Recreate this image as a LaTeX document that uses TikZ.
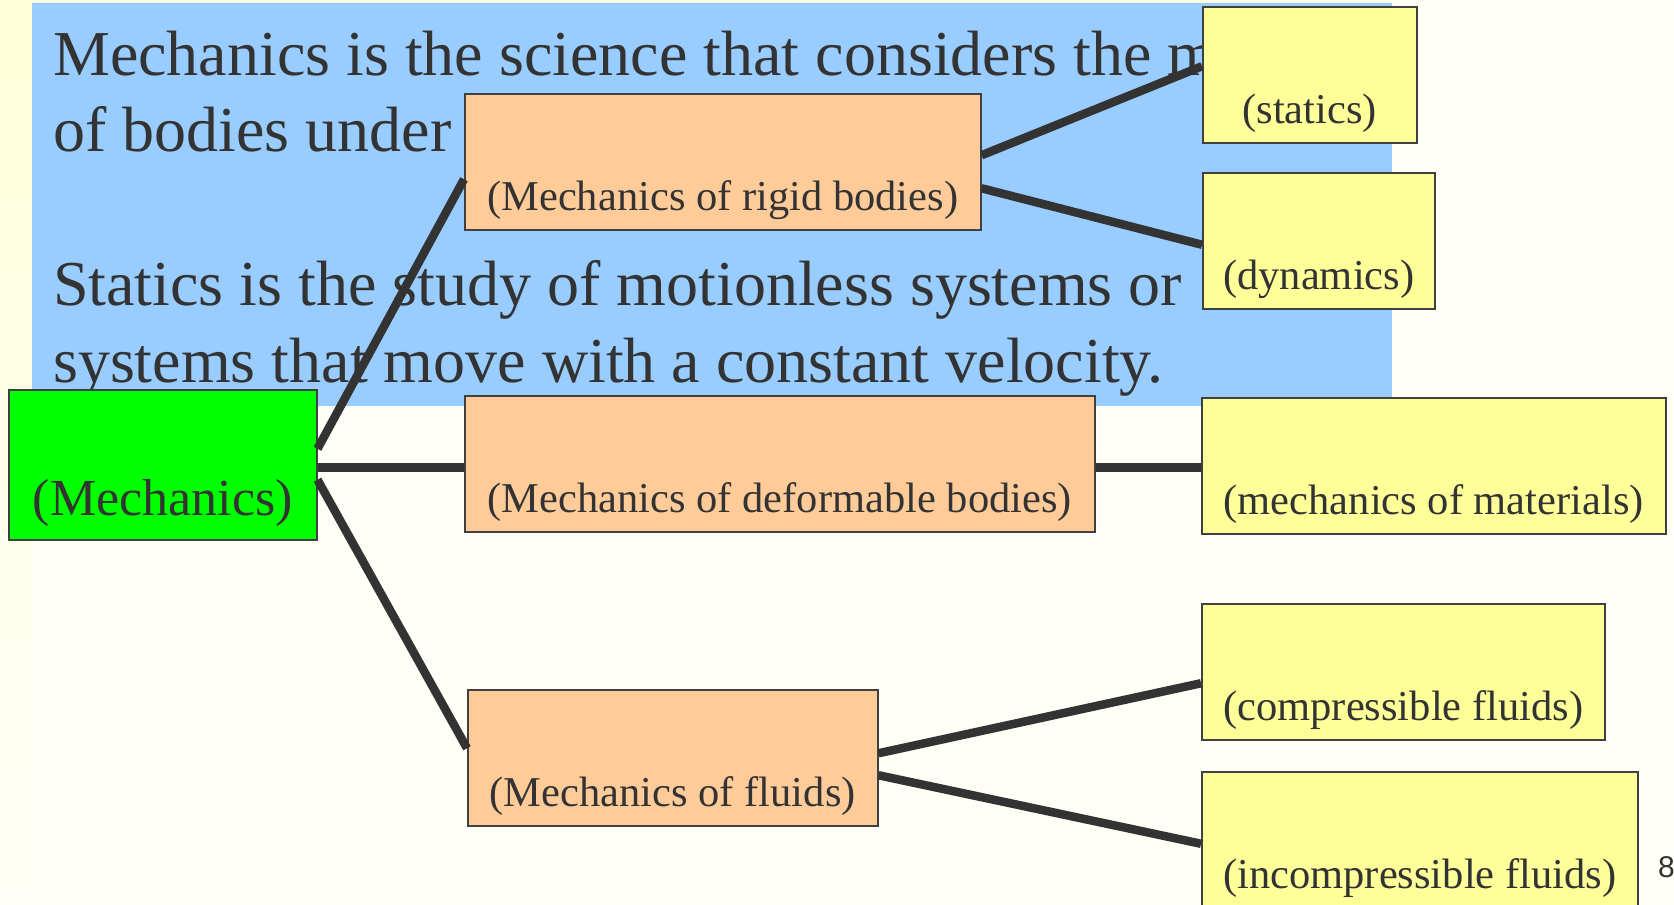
\documentclass[tikz,border=0pt]{standalone}
\usepackage{fontspec}
\setmainfont{Liberation Serif}
\newfontfamily\pagefont{Liberation Sans}
\definecolor{bgc}{HTML}{FFFFF7}
\definecolor{stripc}{HTML}{FFFFDA}
\definecolor{bluec}{HTML}{99CCFF}
\definecolor{orangec}{HTML}{FFCC99}
\definecolor{yellowc}{HTML}{FFFF99}
\definecolor{greenc}{HTML}{00FF00}
\definecolor{ink}{HTML}{333333}
\definecolor{edgec}{HTML}{404040}
\tikzset{
  box/.style={draw=edgec, line width=1.5pt, inner sep=0pt, anchor=north west, text=ink,
    font=\fontsize{42.5}{50}\selectfont, text height=117pt, text depth=19pt},
  orangebox/.style={box, fill=orangec},
  yellowbox/.style={box, fill=yellowc},
  greenbox/.style={box, fill=greenc, font=\fontsize{52}{60}\selectfont, text height=126pt, text depth=24pt},
  bigtext/.style={anchor=base west, inner sep=0pt, text=ink, font=\fontsize{64}{77}\selectfont},
  conn/.style={draw=ink, line width=8.5pt},
}
\begin{document}
\begin{tikzpicture}[x=1pt,y=-1pt]
\useasboundingbox (0,0) rectangle (1674,905);
% background
\fill[bgc] (0,0) rectangle (1674,905);
\shade[top color=stripc, bottom color=bgc] (0,0) rectangle (32,905);
\fill[stripc!60!bgc] (32,0) rectangle (1392,3);
\fill[bluec] (32,3) rectangle (1392,406);
% paragraph text
\node[bigtext] (t1) at (53,75) {Mechanics is the science that considers the m};
\node[bigtext] (t2) at (53,151) {of bodies under};
\node[bigtext] (t3) at (53,305) {Statics is the study of motionless systems or};
\node[bigtext] (t4) at (53,382) {systems that move with a constant velocity.};
% boxes
\node[greenbox, minimum width=308pt] (g) at (8,389) {(Mechanics)};
\node[orangebox, minimum width=516pt] (b1) at (464,93) {(Mechanics of rigid bodies)};
\node[orangebox, minimum width=630pt] (b2) at (464,395) {(Mechanics of deformable bodies)};
\node[orangebox, minimum width=410pt] (b3) at (467,689) {(Mechanics of fluids)};
\node[yellowbox, minimum width=214pt] (y1) at (1202,6) {(statics)};
\node[yellowbox, minimum width=232pt] (y2) at (1202,172) {(dynamics)};
\node[yellowbox, minimum width=464pt] (y3) at (1201,397) {(mechanics of materials)};
\node[yellowbox, minimum width=403pt] (y4) at (1201,603) {(compressible fluids)};
\node[yellowbox, minimum width=436pt] (y5) at (1201,771) {(incompressible fluids)};
% connectors
\draw[conn] ([yshift=16pt]g.east) -- ([yshift=-17.5pt]b1.west);
\draw[conn] ([yshift=-2.5pt]g.east) -- ([yshift=-2.5pt]g.east -| b2.west);
\draw[conn] ([yshift=-15pt]g.east) -- ([yshift=9.5pt]b3.west);
\draw[conn] ([yshift=6.5pt]b1.east) -- ([yshift=8.5pt]y1.west);
\draw[conn] ([yshift=-26.5pt]b1.east) -- ([yshift=-4pt]y2.west);
\draw[conn] ([yshift=-2.5pt]g.east -| b2.east) -- ([yshift=-2.5pt]g.east -| y3.west);
\draw[conn] ([yshift=4.5pt]b3.east) -- ([yshift=-11.5pt]y4.west);
\draw[conn] ([yshift=-17.5pt]b3.east) -- ([yshift=-4pt]y5.west);
% page number
\node[anchor=base west, inner sep=0pt, text=ink, font=\pagefont\fontsize{30}{36}\selectfont] (pg) at (1658,877) {8};
\end{tikzpicture}
\end{document}
